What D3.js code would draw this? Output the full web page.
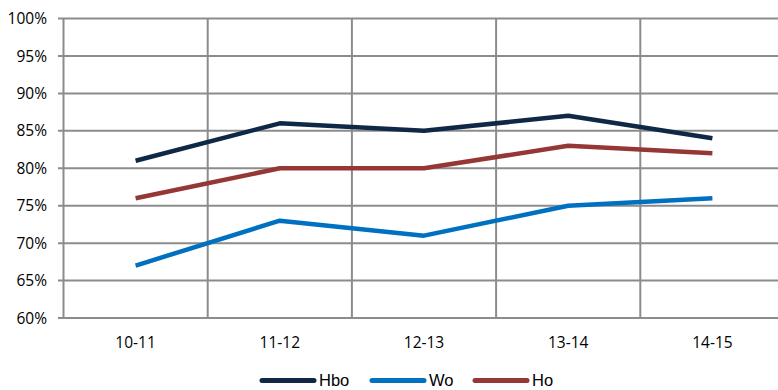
<!DOCTYPE html>
<html><head><meta charset="utf-8">
<script src="https://cdn.jsdelivr.net/npm/d3@7"></script>
<style>body{margin:0;background:#fff}svg{display:block}</style>
</head><body>
<script>
const categories = ["10-11","11-12","12-13","13-14","14-15"];
const hbo = [81, 86, 85, 87, 84];
const wo  = [67, 73, 71, 75, 76];
const ho  = [76, 80, 80, 83, 82];
const yTicks = [60,65,70,75,80,85,90,95,100];
const seriesNames = ["Hbo","Wo","Ho"];
const seriesColors = ["#0f2846","#0070c0","#953735"];
const series = [hbo, wo, ho];

const W = 778, H = 390;
const svg = d3.select("body").append("svg").attr("width", W).attr("height", H);
const x = d3.scaleBand().domain(categories).range([63.5, 784.5]);
const y = d3.scaleLinear().domain([60, 100]).range([318, 18.5]);

const grid = svg.append("g");
grid.selectAll("line.h").data(yTicks).join("line")
  .attr("x1", 58).attr("x2", W).attr("y1", d => y(d)).attr("y2", d => y(d))
  .attr("stroke", "#8c8c8c").attr("stroke-width", 2);
const bounds = categories.map(c => x(c));
grid.selectAll("line.v").data(bounds).join("line")
  .attr("x1", d => d).attr("x2", d => d).attr("y1", y(100)).attr("y2", y(60))
  .attr("stroke", "#8c8c8c").attr("stroke-width", 2);

const font = "'Open Sans', sans-serif";
svg.append("g").selectAll("text").data(yTicks).join("text")
  .attr("x", 47).attr("y", d => y(d)).attr("dy", "0.36em")
  .attr("text-anchor", "end").attr("font-family", font).attr("font-size", 15.5)
  .attr("fill", "#000").text(d => d + "%");
svg.append("g").selectAll("text").data(categories).join("text")
  .attr("x", d => x(d) + x.bandwidth()/2).attr("y", 348)
  .attr("text-anchor", "middle").attr("font-family", font).attr("font-size", 15.5)
  .attr("fill", "#000").text(d => d);

const line = d3.line().x((d, i) => x(categories[i]) + x.bandwidth()/2).y(d => y(d));
series.forEach((s, k) => {
  svg.append("path").datum(s).attr("d", line).attr("fill", "none")
    .attr("stroke", seriesColors[k]).attr("stroke-width", 4.5)
    .attr("stroke-linejoin", "round");
});

const legX = [260, 370, 473];
const leg = svg.append("g");
seriesNames.forEach((n, k) => {
  leg.append("line").attr("x1", legX[k] + 2).attr("x2", legX[k] + 54)
    .attr("y1", 380.5).attr("y2", 380.5).attr("stroke", seriesColors[k])
    .attr("stroke-width", 5).attr("stroke-linecap", "round");
  leg.append("text").attr("x", legX[k] + 59).attr("y", 385.5)
    .attr("font-family", "'Liberation Sans', sans-serif").attr("font-size", 16.5)
    .attr("fill", "#000").text(n);
});
</script>
</body></html>
